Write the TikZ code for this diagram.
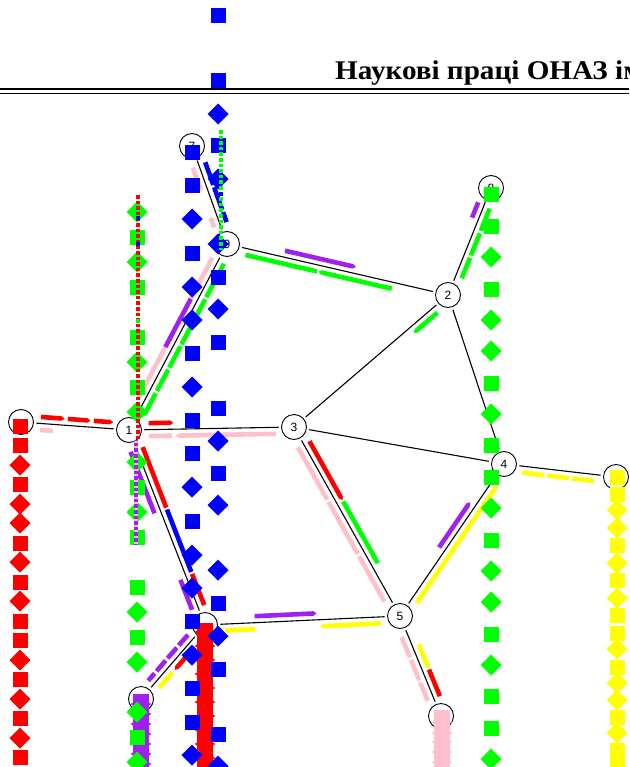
\documentclass[tikz,border=0pt]{standalone}
\usepackage{fontspec}
\setmainfont{Liberation Serif}
\setsansfont{Liberation Sans}
\usetikzlibrary{calc,arrows.meta}

\definecolor{rred}{RGB}{255,0,0}
\definecolor{rgreen}{RGB}{0,255,0}
\definecolor{rblue}{RGB}{0,0,255}
\definecolor{rpurple}{RGB}{160,32,240}
\definecolor{rpink}{RGB}{255,192,203}
\definecolor{ryellow}{RGB}{255,255,0}

% route strip beside an edge: [extra]{colour}{from}{to}{t1}{t2}{side offset}
\newcommand\rseg[7][]{\draw[route,draw=#2,#1] ($(#3)!#5!(#4)!#7pt!90:(#4)$) -- ($(#3)!#6!(#4)!#7pt!90:(#4)$);}
% marker of a stop column: {colour}{x}{y}{0 = square, 1 = diamond}
\newcommand\mkr[4]{\ifnum#4=0 \fill[#1] (#2-7.5,#3-7.5) rectangle (#2+7.5,#3+7.5);\else\fill[#1] (#2,#3-10.5) -- (#2+10.5,#3) -- (#2,#3+10.5) -- (#2-10.5,#3) -- cycle;\fi}
% densely packed column: {colour}{x}{top}{bottom}{bump list}
\newcommand\mkbar[5]{\fill[#1] (#2-8,#3) rectangle (#2+8,#4);
  \foreach \yy in {#5}{\fill[#1] (#2,\yy-6) -- (#2+10.5,\yy) -- (#2,\yy+6) -- (#2-10.5,\yy) -- cycle;}}

\begin{document}
\begin{tikzpicture}[x=1pt,y=-1pt,
  vtx/.style={circle,draw,line width=0.9pt,fill=white,minimum size=25pt,inner sep=0pt,
    font=\sffamily\fontsize{12}{12}\selectfont},
  edge/.style={line width=1.1pt,shorten <=2.5pt,shorten >=2.5pt},
  route/.style={line width=4.6pt},
  tip/.style={-{Triangle[length=3.5pt,width=4.6pt]}},
  tipb/.style={{Triangle[length=3.5pt,width=4.6pt]}-},
  dsh/.style={dash pattern=on 24pt off 2.5pt},
  dots/.style={line width=3.6pt,dash pattern=on 3.6pt off 2pt}]
\useasboundingbox (0,0) rectangle (629,767);
\clip (0,0) rectangle (629,767);

% running head
\node[anchor=base west,inner sep=0pt,font=\bfseries\fontsize{27}{30}\selectfont] (head) at (335,80)
  {\scalebox{1.08}[1]{Наукові праці ОНАЗ ім.}};
\draw[line width=2.5pt] (0,89.2) -- (629,89.2);
\draw[line width=1pt] (0,93.2) -- (629,93.2);

% vertices
\node[vtx] (n0) at (21,422) {};
\node[vtx] (n1) at (129,430) {1};
\node[vtx] (n2) at (448,295) {2};
\node[vtx] (n3) at (294,427) {3};
\node[vtx] (n4) at (504,464) {4};
\node[vtx] (n5) at (400,616) {5};
\node[vtx] (n6) at (205,625) {};
\node[vtx] (n7) at (192,146) {7};
\node[vtx] (n8) at (491,188) {8};
\node[vtx] (n9) at (227,244) {9};
\node[vtx] (n10) at (616,477) {};
\node[vtx] (n11) at (441,716) {};
\node[vtx] (n12) at (141,699) {};

% edges
\foreach \a/\b in {n0/n1,n1/n3,n1/n9,n1/n6,n7/n9,n9/n2,n8/n2,n2/n3,n2/n4,n3/n4,
                   n3/n5,n4/n10,n4/n5,n6/n5,n6/n12,n5/n11}
  {\draw[edge] (\a) -- (\b);}

% routes along the edges
\rseg[tip]{rred}{n0}{n1}{.18}{.40}{6.5}
\rseg[tip]{rred}{n0}{n1}{.43}{.64}{6.5}
\rseg[tip]{rred}{n0}{n1}{.67}{.85}{6.5}
\rseg{rpink}{n0}{n1}{.18}{.30}{-6.5}

\rseg[tip]{rred}{n1}{n3}{.12}{.27}{6.5}
\rseg{rpink}{n1}{n3}{.12}{.26}{-6.5}
\rseg[tipb]{rpink}{n1}{n3}{.28}{.89}{-6.5}

\rseg{rpink}{n1}{n9}{.16}{.43}{6.5}
\rseg{rpurple}{n1}{n9}{.43}{.69}{6.5}
\rseg{rpink}{n1}{n9}{.69}{.91}{6.5}
\rseg[dsh]{rgreen}{n1}{n9}{.10}{.91}{-6.5}

\rseg{rpink}{n7}{n9}{.20}{.43}{-6.5}
\rseg{rpink}{n7}{n9}{.71}{.81}{-6.5}
\rseg[dsh]{rblue}{n7}{n9}{.19}{.80}{7}

\rseg[tip]{rpurple}{n9}{n2}{.256}{.577}{6.5}
\rseg{rgreen}{n9}{n2}{.09}{.414}{-6.5}
\rseg[tipb]{rgreen}{n9}{n2}{.42}{.752}{-6.5}

\rseg{rpurple}{n8}{n2}{.156}{.30}{-6.5}
\rseg[dsh]{rgreen}{n8}{n2}{.17}{.82}{6.5}

\rseg[tip]{rgreen}{n2}{n3}{.096}{.25}{6.5}

\rseg[tip]{rred}{n3}{n5}{.092}{.404}{6.5}
\rseg{rgreen}{n3}{n5}{.41}{.737}{6.5}
\rseg[dash pattern=on 60pt off 2.5pt]{rpink}{n3}{n5}{.09}{.906}{-6.5}

\rseg[dash pattern=on 22pt off 3pt]{ryellow}{n4}{n10}{.17}{.83}{-6.5}

\rseg{ryellow}{n4}{n5}{.125}{.89}{6.5}
\rseg[tipb]{rpurple}{n4}{n5}{.275}{.573}{-6.5}

\rseg[tip]{rpurple}{n6}{n5}{.256}{.574}{6.5}
\rseg{ryellow}{n6}{n5}{.10}{.256}{-6.5}
\rseg[tipb]{ryellow}{n6}{n5}{.59}{.90}{-6.5}

\rseg[dash pattern=on 14pt off 3pt]{rpurple}{n6}{n12}{.19}{.81}{-6.5}
\rseg{ryellow}{n6}{n12}{.585}{.79}{6.5}
\rseg[tip]{rred}{n6}{n12}{.385}{.55}{6.5}

\rseg[dash pattern=on 22pt off 2.5pt]{rpink}{n5}{n11}{.187}{.825}{-6.5}
\rseg{ryellow}{n5}{n11}{.31}{.54}{6.5}
\rseg{rred}{n5}{n11}{.56}{.826}{6.5}

\rseg{rred}{n1}{n6}{.10}{.41}{6.5}
\rseg{rblue}{n1}{n6}{.42}{.74}{6.5}
\rseg{rpurple}{n1}{n6}{.10}{.415}{-6.5}
\rseg{rpurple}{n1}{n6}{.756}{.91}{-6.5}
\rseg{rred}{n1}{n6}{.75}{.91}{6.5}

% densely packed stop columns
\mkbar{rred}{205}{623}{767}{632,646,660,674,688,702,716,730,744,758}
\mkbar{rpurple}{141}{694}{767}{704,714,724,734,744,754,764}
\mkbar{rpink}{442}{710}{767}{722,733,742,752,762}

% stop columns
\foreach \y/\k in {477/0,494/0,510/1,528/1,545/0,563/1,580/0,598/1,615/0,633/0,
                   649/1,667/0,683/1,700/1,717/0,733/1,750/0,765/0}
  {\mkr{ryellow}{617}{\y}{\k}}
\foreach \y/\k in {426/0,445/0,465/1,484/0,504/1,523/1,543/0,562/1,582/0,601/1,
                   621/0,640/0,660/1,679/0,699/1,718/0,738/1,757/0}
  {\mkr{rred}{20}{\y}{\k}}
\foreach \y/\k in {195/0,226/0,257/1,289/0,320/1,351/1,383/0,414/1,445/0,477/0,
                   508/1,540/0,571/1,602/1,634/0,665/1,696/0,728/0,759/1}
  {\mkr{rgreen}{491}{\y}{\k}}
\foreach \y/\k in {212/1,237/0,262/1,287/0,337/0,362/1,387/0,412/1,462/1,487/0,
                   512/1,537/0,587/0,612/1,637/0,662/1,712/1,737/0,762/1}
  {\mkr{rgreen}{137}{\y}{\k}}

% dotted stop lines
\draw[dots,rred] (138,195) -- (138,440);
\foreach \y in {216,242} {\fill[rblue] (136.2,\y) rectangle (139.8,\y+3.6);}
\fill[rgreen] (136.2,319) rectangle (139.8,322.6);
\draw[dots,rpink] (136,440) -- (136,545);
\draw[dots,rpurple,dash phase=2.8pt] (136,440) -- (136,545);

\foreach \y/\k in {16/0,81/0,114/1,146/0,179/1,244/1,277/0,309/1,342/0,408/0,
                   441/1,473/0,505/1,570/1,603/0,636/1,669/0,734/0,766/1}
  {\mkr{rblue}{218}{\y}{\k}}
\foreach \y/\k in {153/0,186/0,219/1,253/0,287/1,320/1,353/0,387/1,420/0,453/0,
                   487/1,521/0,555/1,588/1,621/0,655/1,688/0,722/0,755/1}
  {\mkr{rblue}{192}{\y}{\k}}

\draw[dots,rgreen] (221,130) -- (221,250);
\fill[rblue] (219.2,192) rectangle (222.8,195.6);
\end{tikzpicture}
\end{document}
